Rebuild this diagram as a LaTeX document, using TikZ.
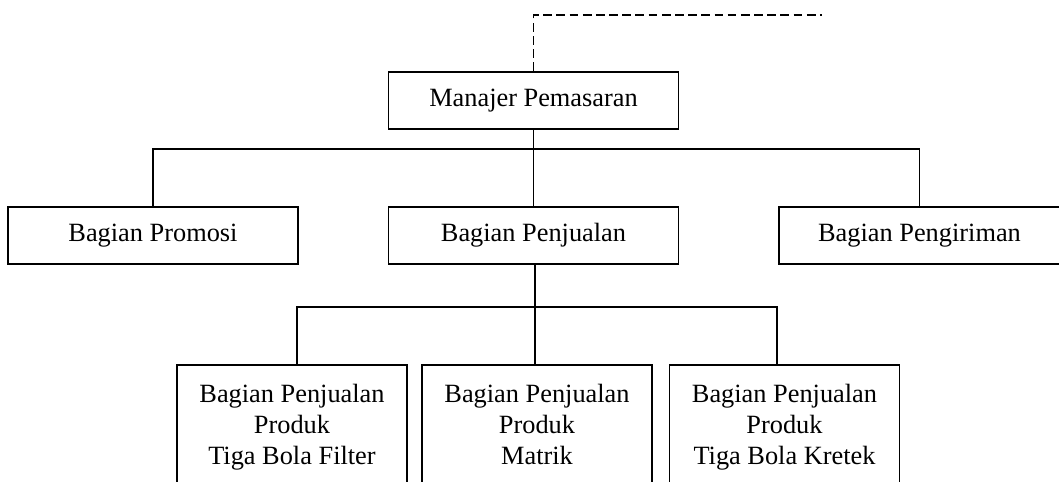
\documentclass[tikz,border=0pt]{standalone}
\usepackage{fontspec}
\setmainfont{Liberation Serif}
\usetikzlibrary{positioning}

\begin{document}
\begin{tikzpicture}[x=0.016cm,y=-0.016cm,
    kotak/.style={draw,line width=0.8pt,inner sep=0pt,minimum height=0.912cm,minimum width=4.64cm,align=center,font=\fontsize{12}{14}\selectfont},
    garis/.style={line width=0.8pt}]
  \useasboundingbox (0,0) rectangle (1059,481);
  \clip (0,0) rectangle (1059,481);

  % struktur bagian pemasaran
  \node[kotak](M) at (533.5,100.5){Manajer Pemasaran};
  \node[kotak](P1) at (153,235.5){Bagian Promosi};
  \node[kotak](P2) at (533.5,235.5){Bagian Penjualan};
  \node[kotak,minimum width=4.496cm](P3) at (919.5,235.5){Bagian Pengiriman};

  \foreach \x/\teks [count=\n] in {292/Tiga Bola Filter,537/Matrik,784.5/Tiga Bola Kretek}
    \node[kotak,minimum width=3.68cm,minimum height=1.984cm](B\n) at (\x,427){Bagian Penjualan\\Produk\\\teks\vphantom{g}};

  \coordinate (atas) at (822,15);
  \coordinate (cabang1) at (533.5,149);
  \coordinate (cabang2) at (535,307);

  \draw[garis,dash pattern=on 4pt off 2pt] (M.north) |- (atas);
  \draw[garis] (M.south) -- (P2.north);
  \draw[garis] (P1.north) |- (cabang1) -| (P3.north);
  \draw[garis] (P2.south -| cabang2) -- (B2.north -| cabang2);
  \draw[garis] ([xshift=0.08cm]B1.north) |- (cabang2) -| ([xshift=-0.12cm]B3.north);
\end{tikzpicture}
\end{document}
